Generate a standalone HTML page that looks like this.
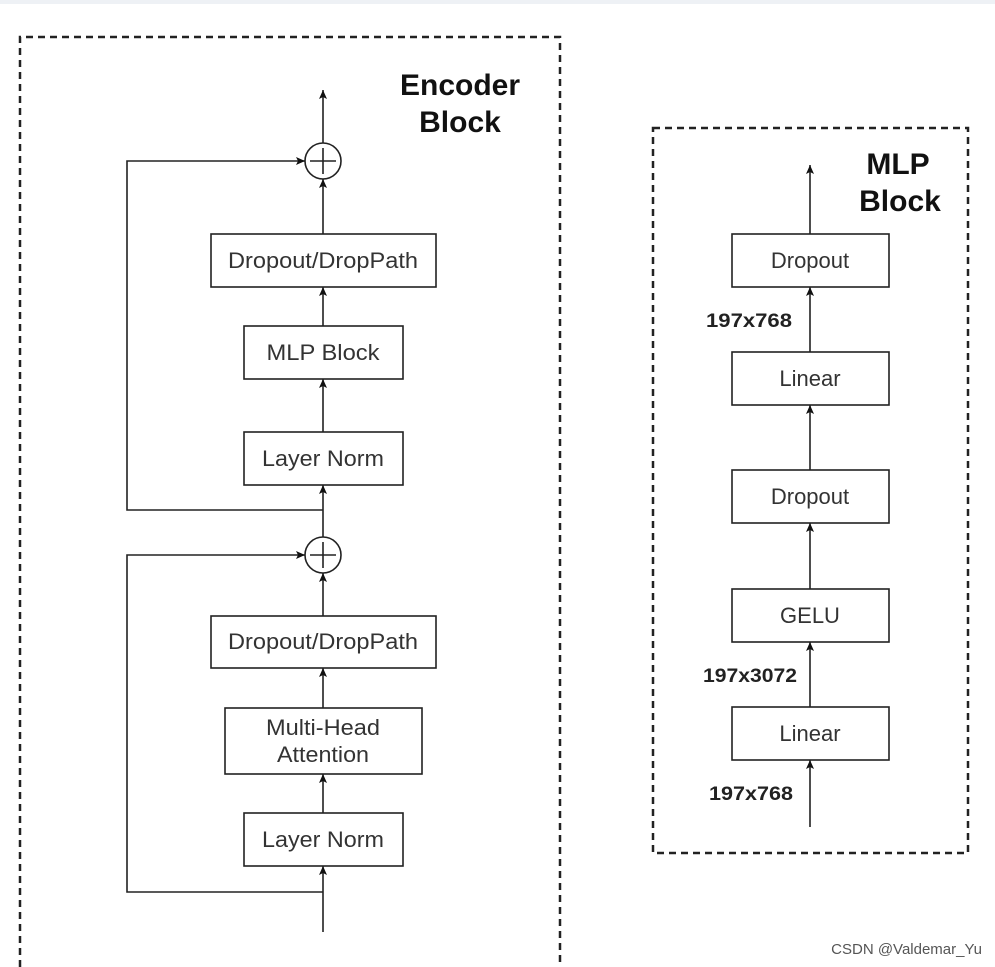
<!DOCTYPE html>
<html><head><meta charset="utf-8"><style>
html,body{margin:0;padding:0;background:#fff;}
svg{display:block;}
text{font-family:"Liberation Sans",sans-serif;}
</style></head><body>
<svg width="995" height="967" viewBox="0 0 995 967" xmlns="http://www.w3.org/2000/svg">
<defs>
<marker id="a" markerWidth="12" markerHeight="12" refX="9" refY="5" orient="auto" markerUnits="userSpaceOnUse">
<path d="M0,1 L9,5 L0,9 L2,5 Z" fill="#111"/></marker>
</defs>
<rect x="0" y="0" width="995" height="4" fill="#eef1f5"/>
<g fill="none" stroke="#222" stroke-width="2.5" stroke-dasharray="7,5">
<path d="M20,967 V37 H560 V967"/>
<rect x="653" y="128" width="315" height="725"/>
</g>
<text x="460" y="95" font-size="30" font-weight="bold" text-anchor="middle" fill="#111">Encoder</text>
<text x="460" y="132" font-size="30" font-weight="bold" text-anchor="middle" fill="#111">Block</text>
<text x="898" y="174" font-size="30" font-weight="bold" text-anchor="middle" fill="#111">MLP</text>
<text x="900" y="211" font-size="30" font-weight="bold" text-anchor="middle" fill="#111">Block</text>
<g stroke="#222" stroke-width="1.6" fill="none">
<line x1="323" y1="143" x2="323" y2="90" marker-end="url(#a)"/>
<circle cx="323" cy="161" r="18"/>
<line x1="310" y1="161" x2="336" y2="161"/><line x1="323" y1="148" x2="323" y2="174"/>
<polyline points="323,510 127,510 127,161 305,161" marker-end="url(#a)"/>
<line x1="323" y1="234" x2="323" y2="179" marker-end="url(#a)"/>
<line x1="323" y1="326" x2="323" y2="287" marker-end="url(#a)"/>
<line x1="323" y1="432" x2="323" y2="379" marker-end="url(#a)"/>
<line x1="323" y1="537" x2="323" y2="485" marker-end="url(#a)"/>
<circle cx="323" cy="555" r="18"/>
<line x1="310" y1="555" x2="336" y2="555"/><line x1="323" y1="542" x2="323" y2="568"/>
<polyline points="323,892 127,892 127,555 305,555" marker-end="url(#a)"/>
<line x1="323" y1="616" x2="323" y2="573" marker-end="url(#a)"/>
<line x1="323" y1="708" x2="323" y2="668" marker-end="url(#a)"/>
<line x1="323" y1="813" x2="323" y2="774" marker-end="url(#a)"/>
<line x1="323" y1="932" x2="323" y2="866" marker-end="url(#a)"/>
<line x1="810" y1="234" x2="810" y2="165" marker-end="url(#a)"/>
<line x1="810" y1="352" x2="810" y2="287" marker-end="url(#a)"/>
<line x1="810" y1="470" x2="810" y2="405" marker-end="url(#a)"/>
<line x1="810" y1="589" x2="810" y2="523" marker-end="url(#a)"/>
<line x1="810" y1="707" x2="810" y2="642" marker-end="url(#a)"/>
<line x1="810" y1="827" x2="810" y2="760" marker-end="url(#a)"/>
<rect x="211" y="234" width="225" height="53"/>
<rect x="244" y="326" width="159" height="53"/>
<rect x="244" y="432" width="159" height="53"/>
<rect x="211" y="616" width="225" height="52"/>
<rect x="225" y="708" width="197" height="66"/>
<rect x="244" y="813" width="159" height="53"/>
<rect x="732" y="234" width="157" height="53"/>
<rect x="732" y="352" width="157" height="53"/>
<rect x="732" y="470" width="157" height="53"/>
<rect x="732" y="589" width="157" height="53"/>
<rect x="732" y="707" width="157" height="53"/>
</g>
<g font-size="22" fill="#333" text-anchor="middle">
<text x="323" y="268" textLength="190" lengthAdjust="spacingAndGlyphs">Dropout/DropPath</text>
<text x="323" y="360" textLength="113" lengthAdjust="spacingAndGlyphs">MLP Block</text>
<text x="323" y="466" textLength="122" lengthAdjust="spacingAndGlyphs">Layer Norm</text>
<text x="323" y="649" textLength="190" lengthAdjust="spacingAndGlyphs">Dropout/DropPath</text>
<text x="323" y="735" textLength="114" lengthAdjust="spacingAndGlyphs">Multi-Head</text>
<text x="323" y="762" textLength="92" lengthAdjust="spacingAndGlyphs">Attention</text>
<text x="323" y="847" textLength="122" lengthAdjust="spacingAndGlyphs">Layer Norm</text>
<text x="810" y="268">Dropout</text>
<text x="810" y="386">Linear</text>
<text x="810" y="504">Dropout</text>
<text x="810" y="623">GELU</text>
<text x="810" y="741">Linear</text>
</g>
<g font-size="19" font-weight="bold" fill="#222" text-anchor="middle">
<text x="749" y="327" textLength="86" lengthAdjust="spacingAndGlyphs">197x768</text>
<text x="750" y="682" textLength="94" lengthAdjust="spacingAndGlyphs">197x3072</text>
<text x="751" y="800" textLength="84" lengthAdjust="spacingAndGlyphs">197x768</text>
</g>
<text x="982" y="954" font-size="15" fill="#555" text-anchor="end">CSDN @Valdemar_Yu</text>
</svg>
</body></html>
